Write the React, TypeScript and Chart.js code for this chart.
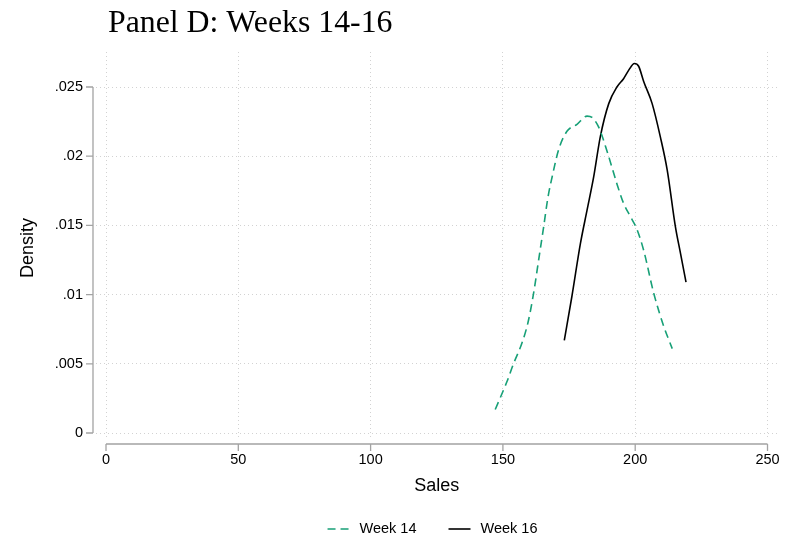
import React, { useEffect, useRef } from "react";
import { Chart, registerables } from "chart.js";

Chart.register(...registerables);

const TITLE = "Panel D: Weeks 14-16";
const X_TITLE = "Sales";
const Y_TITLE = "Density";

const xTickValues = [0, 50, 100, 150, 200, 250];
const xTickLabels = ["0", "50", "100", "150", "200", "250"];
const yTickValues = [0, 0.005, 0.01, 0.015, 0.02, 0.025];
const yTickLabels = ["0", ".005", ".01", ".015", ".02", ".025"];

const week14Label = "Week 14";
const week14X = [147.1, 151.5, 154.0, 157.2, 159.5, 161.6, 163.5, 165.4, 167.0, 168.6, 171.1, 174.2, 178.0, 181.8, 183.7, 186.2, 189.3, 193.1, 195.6, 198.0, 200.7, 203.2, 207.0, 210.8, 214.0];
const week14Y = [0.0017, 0.0037, 0.005, 0.0065, 0.008, 0.0101, 0.0125, 0.0149, 0.017, 0.0185, 0.0205, 0.0218, 0.0223, 0.0229, 0.0228, 0.0221, 0.0204, 0.018, 0.0166, 0.0157, 0.0147, 0.0132, 0.0101, 0.0077, 0.0061];

const week16Label = "Week 16";
const week16X = [173.2, 176.1, 179.3, 181.8, 184.3, 186.8, 190.0, 193.1, 195.6, 197.5, 199.7, 201.3, 203.2, 206.4, 209.5, 212.1, 215.2, 217.1, 219.2];
const week16Y = [0.0067, 0.0099, 0.0137, 0.0161, 0.0185, 0.0214, 0.0238, 0.025, 0.0256, 0.0262, 0.0267, 0.0265, 0.0254, 0.0238, 0.0214, 0.019, 0.0149, 0.013, 0.0109];

const GREEN = "#17a077";
const BLACK = "#000000";
const AXIS_COLOR = "#a3a3a3";
const GRID_COLOR = "#d2d2d2";
const SANS = "'Liberation Sans', Arial, Helvetica, sans-serif";
const SERIF = "'Liberation Serif', 'Times New Roman', serif";

const toPoints = (xs: number[], ys: number[]) => xs.map((x, i) => ({ x, y: ys[i] }));

const decorPlugin = {
  id: "decor",
  afterDraw(chart: any) {
    const { ctx, chartArea, scales } = chart;
    const xs = scales.x;
    const ys = scales.y;
    ctx.save();

    // Title
    ctx.fillStyle = "#000";
    ctx.font = `31.8px ${SERIF}`;
    ctx.textAlign = "left";
    ctx.textBaseline = "alphabetic";
    ctx.fillText(TITLE, 108, 32);

    // Y axis line and ticks
    ctx.strokeStyle = AXIS_COLOR;
    ctx.lineWidth = 1.3;
    ctx.setLineDash([]);
    const ax = chartArea.left - 3;
    const y0 = ys.getPixelForValue(yTickValues[0]);
    const y1 = ys.getPixelForValue(yTickValues[yTickValues.length - 1]);
    ctx.beginPath();
    ctx.moveTo(ax, y0);
    ctx.lineTo(ax, y1);
    yTickValues.forEach((v) => {
      const p = ys.getPixelForValue(v);
      ctx.moveTo(ax - 7, p);
      ctx.lineTo(ax, p);
    });
    ctx.stroke();

    // X axis line and ticks
    const ay = chartArea.bottom + 6;
    const x0 = xs.getPixelForValue(xTickValues[0]);
    const x1 = xs.getPixelForValue(xTickValues[xTickValues.length - 1]);
    ctx.beginPath();
    ctx.moveTo(x0, ay);
    ctx.lineTo(x1, ay);
    xTickValues.forEach((v) => {
      const p = xs.getPixelForValue(v);
      ctx.moveTo(p, ay);
      ctx.lineTo(p, ay + 7);
    });
    ctx.stroke();

    // Axis titles
    ctx.fillStyle = "#000";
    ctx.font = `18px ${SANS}`;
    ctx.textAlign = "center";
    ctx.textBaseline = "alphabetic";
    ctx.fillText(X_TITLE, (x0 + x1) / 2, 491);
    ctx.save();
    ctx.translate(33, (y0 + y1) / 2 - 12);
    ctx.rotate(-Math.PI / 2);
    ctx.fillText(Y_TITLE, 0, 0);
    ctx.restore();

    // Legend
    ctx.font = `14.5px ${SANS}`;
    ctx.textBaseline = "middle";
    ctx.textAlign = "left";
    const items = [
      { label: week14Label, color: GREEN, dash: [8, 5] },
      { label: week16Label, color: BLACK, dash: [] as number[] },
    ];
    const lineW = 22;
    const gap = 10;
    const itemGap = 32;
    const widths = items.map((it) => lineW + gap + ctx.measureText(it.label).width);
    const total = widths.reduce((a, b) => a + b, 0) + itemGap * (items.length - 1);
    let lx = chart.width / 2 + 40 - total / 2;
    const ly = 529;
    items.forEach((it, i) => {
      ctx.strokeStyle = it.color;
      ctx.lineWidth = 1.6;
      ctx.setLineDash(it.dash);
      ctx.beginPath();
      ctx.moveTo(lx, ly);
      ctx.lineTo(lx + lineW, ly);
      ctx.stroke();
      ctx.setLineDash([]);
      ctx.fillStyle = "#000";
      ctx.fillText(it.label, lx + lineW + gap, ly);
      lx += widths[i] + itemGap;
    });

    ctx.restore();
  },
};

export default function App() {
  const ref = useRef<HTMLCanvasElement | null>(null);

  useEffect(() => {
    if (!ref.current) return;
    const chart = new Chart(ref.current, {
      type: "line",
      data: {
        datasets: [
          {
            label: week14Label,
            data: toPoints(week14X, week14Y),
            borderColor: GREEN,
            backgroundColor: GREEN,
            borderWidth: 1.6,
            borderDash: [8, 5],
            pointRadius: 0,
            cubicInterpolationMode: "monotone",
            fill: false,
          },
          {
            label: week16Label,
            data: toPoints(week16X, week16Y),
            borderColor: BLACK,
            backgroundColor: BLACK,
            borderWidth: 1.6,
            pointRadius: 0,
            cubicInterpolationMode: "monotone",
            fill: false,
          },
        ],
      },
      options: {
        animation: false,
        responsive: false,
        devicePixelRatio: 1,
        layout: { padding: { top: 52, right: 5, left: 0, bottom: 0 } },
        plugins: {
          legend: { display: false },
          title: { display: false },
          tooltip: { enabled: false },
        },
        scales: {
          x: {
            type: "linear",
            min: -3.78,
            max: 254.72,
            afterBuildTicks: (s: any) => {
              s.ticks = xTickValues.map((v) => ({ value: v }));
            },
            afterFit: (s: any) => {
              s.height = 102;
              s.paddingLeft = 0;
              s.paddingRight = 0;
            },
            ticks: {
              padding: 13,
              color: "#000",
              font: { family: SANS, size: 14.5 },
              maxRotation: 0,
              callback: (v: any) => {
                const i = xTickValues.indexOf(Number(v));
                return i >= 0 ? xTickLabels[i] : "";
              },
            },
            grid: { color: GRID_COLOR, lineWidth: 1, drawTicks: false },
            border: { display: false, dash: [1, 3] },
          },
          y: {
            type: "linear",
            min: -0.00036,
            max: 0.02753,
            afterBuildTicks: (s: any) => {
              s.ticks = yTickValues.map((v) => ({ value: v }));
            },
            afterFit: (s: any) => {
              s.width = 96;
              s.paddingTop = 0;
              s.paddingBottom = 0;
            },
            ticks: {
              padding: 13,
              color: "#000",
              font: { family: SANS, size: 14.5 },
              callback: (v: any) => {
                const i = yTickValues.findIndex((t) => Math.abs(t - Number(v)) < 1e-9);
                return i >= 0 ? yTickLabels[i] : "";
              },
            },
            grid: { color: GRID_COLOR, lineWidth: 1, drawTicks: false },
            border: { display: false, dash: [1, 3] },
          },
        },
      },
      plugins: [decorPlugin],
    });
    return () => chart.destroy();
  }, []);

  return (
    <div style={{ position: "absolute", left: 0, top: 0, width: 785, height: 540, background: "#fff" }}>
      <canvas ref={ref} width={785} height={540} style={{ display: "block" }} />
    </div>
  );
}
